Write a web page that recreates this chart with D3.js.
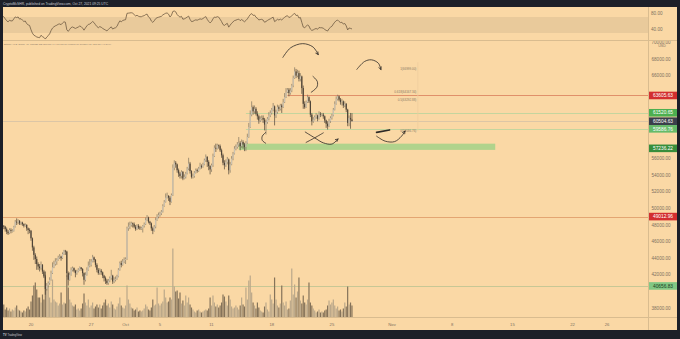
<!DOCTYPE html>
<html><head><meta charset="utf-8">
<script src="https://cdn.jsdelivr.net/npm/d3@7"></script>
<style>html,body{margin:0;padding:0;background:#1c1f28;}svg{display:block;}</style>
</head><body><svg id="c" width="680" height="339"></svg>
<script>
// ---------- DATA (BTC/USD 4h, Coinbase; prices in thousands of USD) ----------
const firstCandleUTC = Date.UTC(2021, 8, 16, 12); // Sep 16 12:00
const firstOpen = 48.0;
const priorCloses = [44.6,44.9,44.3,44.9,45.3,45.6,46.2,46.8,47.1,47.0,47.3,47.6,47.9,48.2,48.1,48.3,48.0,47.8,48.0,48.0];
const closeK = [
 47.6,47.9,47.8,
 47.5,47.2,47.0,47.4,47.3,47.3,
 47.8,48.4,48.3,48.5,48.2,48.3,
 48.1,47.9,48.0,47.6,47.4,47.3,
 46.4,45.3,44.4,43.9,43.3,43.0,
 42.8,43.2,42.4,41.8,40.3,40.7,
 41.0,41.4,42.2,42.9,43.3,43.6,
 43.8,44.1,44.2,44.0,44.5,44.9,
 44.8,42.2,41.4,42.0,42.6,42.8,
 42.5,42.2,42.4,42.6,42.9,42.7,
 42.2,41.4,42.0,42.6,43.1,43.2,
 43.6,44.1,43.8,43.2,42.6,42.2,
 42.5,42.3,41.9,41.6,41.3,41.0,
 41.3,41.6,41.9,41.2,41.4,41.5,
 41.8,42.6,43.4,43.2,43.6,43.8,
 43.9,47.6,47.8,48.0,48.2,48.1,
 47.8,47.5,47.9,47.7,47.6,47.6,
 47.9,48.1,48.6,48.9,48.4,48.2,
 47.6,47.3,47.8,48.6,49.0,49.2,
 49.4,49.6,50.3,50.8,51.3,51.5,
 51.3,50.8,51.6,54.9,55.5,55.3,
 54.6,54.2,53.9,54.4,53.6,53.8,
 54.2,54.8,55.4,54.5,53.8,53.9,
 54.3,54.6,54.5,54.8,55.1,55.0,
 55.3,55.8,56.2,55.6,55.1,54.7,
 55.2,56.3,57.3,57.2,57.6,57.5,
 57.0,56.4,55.5,55.2,55.6,55.9,
 54.6,55.3,56.0,56.6,57.2,57.4,
 57.7,57.9,57.5,58.0,57.7,57.4,
 57.9,58.6,59.8,61.3,62.2,61.7,
 62.0,61.4,61.1,60.6,60.8,60.9,
 60.7,60.1,60.4,60.8,61.2,61.5,
 61.9,62.3,61.2,61.6,62.2,62.0,
 62.4,62.2,62.8,63.4,64.0,64.3,
 63.9,64.2,64.8,65.7,66.5,66.0,
 66.3,65.6,65.9,64.5,62.6,62.2,
 62.8,63.4,62.9,61.3,60.5,60.7,
 61.0,61.2,60.8,61.4,61.3,61.3,
 61.1,60.6,60.2,59.9,60.5,60.9,
 61.2,61.9,62.6,63.2,63.5,63.1,
 62.8,62.9,62.4,62.6,61.9,60.3,
 60.9,60.71144,60.50463
];
const highK = [
 48.2,48.1,48.0,
 47.9,47.7,47.4,47.6,47.6,47.5,
 47.9,48.6,48.8,48.7,48.6,48.4,
 48.4,48.2,48.2,48.1,47.7,47.6,
 47.4,46.5,45.5,44.6,44.2,43.5,
 43.3,43.6,43.3,42.6,42.0,41.0,
 41.2,41.7,42.5,43.5,43.7,44.0,
 44.0,44.3,44.5,44.3,44.7,45.0,
 45.0,44.9,42.4,42.3,42.9,43.0,
 42.9,42.6,42.6,42.8,43.0,42.9,
 42.8,42.3,42.3,42.9,43.6,43.9,
 43.9,44.4,44.2,43.9,43.4,42.8,
 42.8,42.7,42.4,42.0,41.8,41.5,
 41.5,41.8,42.6,42.0,41.7,41.8,
 42.0,42.8,43.6,43.7,43.9,44.1,
 44.1,47.8,48.3,48.4,48.4,48.3,
 48.3,48.0,48.1,48.1,47.9,47.8,
 48.0,48.3,48.9,49.2,49.0,48.5,
 48.3,47.8,48.0,48.9,49.3,49.5,
 49.6,49.8,50.5,51.0,51.8,51.9,
 51.6,51.5,51.8,55.3,55.8,55.7,
 55.4,54.8,54.4,54.6,54.5,54.1,
 54.4,55.0,56.1,55.6,54.6,54.2,
 54.5,54.8,54.8,55.0,55.5,55.3,
 55.5,56.0,56.5,56.3,55.8,55.2,
 55.4,56.6,57.6,57.8,57.8,57.7,
 57.7,57.2,56.6,55.8,55.9,56.2,
 56.0,55.6,56.3,56.8,57.5,57.7,
 58.0,58.6,58.1,58.3,58.2,57.9,
 58.1,59.0,60.3,61.8,62.9,62.4,
 62.4,62.2,61.7,61.3,61.1,61.2,
 61.2,60.9,60.7,61.0,61.6,61.8,
 62.1,62.7,62.4,61.9,62.5,62.4,
 62.6,62.6,63.2,63.9,64.5,64.5,
 64.5,64.5,65.0,66.0,67.0,66.8,
 66.7,66.6,66.3,66.0,64.8,62.9,
 63.0,63.7,63.5,63.0,61.5,61.0,
 61.2,61.5,61.3,61.7,61.6,61.5,
 61.5,61.2,60.7,60.5,60.8,61.1,
 61.4,62.1,62.9,63.5,63.7,63.6,
 63.3,63.2,63.0,62.9,62.7,62.0,
 61.2,61.5,61.488
];
const lowK = [
 47.2,47.4,47.5,
 47.2,46.9,46.8,46.9,47.0,47.1,
 47.2,47.7,48.0,48.1,48.0,48.0,
 47.9,47.7,47.8,47.3,46.9,47.0,
 46.1,44.9,43.8,43.3,42.6,42.6,
 42.4,42.6,42.1,41.6,39.6,40.1,
 40.5,40.8,41.3,42.1,42.8,43.1,
 43.2,43.7,43.9,43.7,43.9,44.4,
 44.4,41.8,40.7,41.3,41.9,42.4,
 42.3,41.7,42.0,42.3,42.5,42.5,
 41.8,40.8,41.2,41.9,42.5,42.9,
 43.0,43.5,43.5,42.9,42.3,42.0,
 42.0,42.0,41.6,41.2,40.9,40.8,
 40.8,41.1,41.4,40.9,41.0,41.2,
 41.4,41.7,42.5,42.9,43.1,43.4,
 43.3,43.8,47.3,47.5,47.8,47.7,
 47.6,47.3,47.4,47.5,47.4,47.4,
 47.1,47.7,48.0,48.5,48.2,48.0,
 47.3,46.9,47.2,47.6,48.5,48.8,
 49.0,49.2,49.5,50.2,50.7,51.2,
 50.9,50.4,50.7,51.5,54.6,54.9,
 54.3,53.8,53.6,53.6,53.4,53.5,
 53.6,54.1,54.6,54.2,53.6,53.6,
 53.7,54.2,54.3,54.4,54.7,54.8,
 54.9,55.2,55.6,55.0,54.6,54.1,
 54.4,55.0,56.2,56.8,57.1,57.2,
 56.8,56.1,55.2,54.7,55.0,55.3,
 54.1,54.3,55.2,55.8,56.5,57.0,
 57.2,57.4,57.0,57.3,57.2,56.9,
 56.9,57.8,58.5,59.7,61.1,61.3,
 61.4,61.2,60.7,60.2,60.4,60.6,
 60.3,59.4,58.9,60.2,60.6,61.0,
 61.3,61.7,60.0,60.9,61.4,61.7,
 61.8,61.5,62.1,62.7,63.3,63.9,
 63.5,63.7,64.0,64.6,65.6,65.7,
 65.8,65.3,65.3,63.8,62.0,62.0,
 62.1,62.7,62.7,61.0,60.0,60.3,
 60.6,60.8,60.5,60.7,61.0,61.1,
 60.8,60.3,59.7,59.5,59.8,60.3,
 60.7,61.1,61.8,62.5,63.0,62.9,
 62.5,62.4,62.1,62.2,61.6,59.9,
 59.9,59.6,60.5
];
const volumeBTC = [
 1100,900,1300,
 800,1000,700,900,600,800,
 700,1000,1200,800,700,600,
 500,700,600,900,1100,800,
 1600,2200,3200,3500,2800,2000,
 2000,1500,2300,1800,4600,3000,
 3200,2000,1500,3800,1800,1600,
 1500,1200,1400,2500,1300,1500,
 1400,4200,3000,1800,1500,1200,
 1100,1300,800,900,700,900,
 1400,2400,1500,1200,1800,1000,
 1200,1500,900,1100,1300,1000,
 1300,900,1200,1500,1800,1200,
 1400,1000,1600,1300,900,800,
 1100,1400,2000,1200,1000,900,
 1200,3200,1800,1400,1000,900,
 700,800,1000,600,700,600,
 700,900,1300,1100,800,700,
 1000,1800,1200,1300,3000,1400,
 1200,1400,1600,2800,2000,1500,
 1600,2000,1800,6900,3100,2600,
 2700,1900,2500,1400,1700,1200,
 2200,1500,2000,1300,1000,800,
 600,500,700,800,600,500,
 600,700,800,700,900,2000,
 1200,2200,1500,1100,1300,1000,
 1200,1500,2300,2100,1600,1200,
 2200,1800,1100,900,1000,1200,
 1000,800,1200,2000,1300,1100,
 3000,1800,3700,4200,2500,1500,
 1200,900,1500,1000,700,600,
 500,1100,1500,800,600,2300,
 1800,1400,4000,1800,1200,1000,
 1400,3200,1500,1200,1600,800,
 900,1700,4900,2300,3300,2000,
 2600,4000,1700,1400,2200,1500,
 1300,1800,3500,1500,1200,900,
 700,500,600,800,500,600,
 500,700,800,1200,1700,1300,
 1500,1800,1200,900,1100,700,
 800,600,900,1500,1100,3100,
 1300,1500,1200
];
const priceTicks = [38,40,42,44,46,48,50,52,54,56,58,60,62,64,66,68,70];
const timeTickDates = [[2021,8,20],[2021,8,27],[2021,9,1],[2021,9,5],[2021,9,11],[2021,9,18],[2021,9,25],[2021,10,1],[2021,10,8],[2021,10,15],[2021,10,22],[2021,10,26]];
const timeTickLabels = ["20","27","Oct","5","11","18","25","Nov","8","15","22","26"];
const rsiTicks = [80, 40];
const rsiBand = [30, 70];
// horizontal levels: price(k), axis label, label bg, label text colour, line colour, line start
const levels = [
 {p:63.60563, lab:"63605.63", bg:"#d32f2f", fg:"#ffffff", line:"#e0906a", from:[2021,9,19,20]},
 {p:61.52065, lab:"61520.65", bg:"#4caf50", fg:"#ffffff", line:"#c4d59e", from:[2021,9,15,0]},
 {p:60.50463, lab:"60504.63", bg:"#3a3f4b", fg:"#ffffff", line:"#dcc6a6", from:null},
 {p:59.58676, lab:"59586.76", bg:"#66bb6a", fg:"#ffffff", line:"#c4d59e", from:[2021,9,15,0]},
 {p:57.23622, lab:"57236.22", bg:"#388e3c", fg:"#ffffff", line:null, from:null},
 {p:49.01296, lab:"49012.96", bg:"#d32f2f", fg:"#ffffff", line:"#e3a572", from:null},
 {p:40.65683, lab:"40656.83", bg:"#81c784", fg:"#1b3d1d", line:"#c7c795", from:null}
];
const zone = {from:[2021,9,14,4], to:[2021,10,13,0], lo:57.05, hi:57.80};
const fibLabels = [
 {t:"1(66999.00)", p:66.85},
 {t:"0.618(64167.34)", p:64.05},
 {t:"0.5(63292.88)", p:63.05},
 {t:"0(59586.76)", p:59.35}
];
const fibX = [2021,10,4,0];
// hand drawn annotation strokes: [days since Sep 20 00:00, price k]
const strokes = [
 {pts:[[29.3,68.2],[30.2,69.35],[31.6,69.85],[32.8,69.45],[33.4,68.55]], arrow:true},
 {pts:[[32.8,65.9],[33.3,65.3],[33.25,64.6],[32.6,64.0]], arrow:false},
 {pts:[[37.9,66.75],[38.8,67.7],[39.6,67.9],[40.4,67.5],[40.7,66.75]], arrow:true},
 {pts:[[27.3,59.15],[26.9,58.7],[26.9,58.2],[27.3,57.85]], arrow:false},
 {pts:[[31.9,59.2],[33.0,58.5],[34.0,57.9],[35.0,57.75],[35.7,58.35]], arrow:true},
 {pts:[[32.0,57.95],[33.0,58.5],[34.0,59.1]], arrow:false},
 {pts:[[40.2,58.7],[41.2,58.1],[42.3,58.05],[43.1,58.7],[43.5,59.3]], arrow:true}
];
const boldDash = [[40.2,59.15],[41.7,59.45]];
const header = "CryptoMcSHR, published on TradingView.com, Oct 27, 2021 09:25 UTC";
const legend = "Bitcoin / U.S. Dollar, 4h, COINBASE   O60711.44  H61488.00  L60500.00  C60504.63  \u2212206.50 (\u22120.34%)";

// ---------- LAYOUT ----------
const W = 680, H = 339;
const L = 3, R = 677, T = 7, B = 330, AX = 648;
const RSI_B = 40.5, MAIN_T = 41, MAIN_B = 317.5;
const BG = "#fad8a5", GRID = "#d9bc8f", TXT = "#7d705f", FONT = "Liberation Sans, Arial, sans-serif";

const svg = d3.select("#c");
svg.append("rect").attr("width", W).attr("height", H).attr("fill", "#1c1f28");
svg.append("rect").attr("x", L).attr("y", T).attr("width", R - L).attr("height", B - T).attr("fill", BG);

const day0 = Date.UTC(2021, 8, 20);
const x = d3.scaleUtc().domain([new Date(day0), new Date(Date.UTC(2021, 10, 26))]).range([31, 607]);
const xd = d => x(new Date(day0 + d * 86400000));
const y = d3.scaleLinear().domain([38, 68]).range([308, 59]);
const yr = d3.scaleLinear().domain([0, 100]).range([45, 5]);
const yv = d3.scaleLinear().domain([0, 6900]).range([MAIN_B, 248.5]);

const defs = svg.append("defs");
defs.append("clipPath").attr("id", "cm").append("rect").attr("x", L).attr("y", MAIN_T).attr("width", AX - L).attr("height", MAIN_B - MAIN_T);
defs.append("clipPath").attr("id", "cr").append("rect").attr("x", L).attr("y", T).attr("width", AX - L).attr("height", RSI_B - T);
defs.append("clipPath").attr("id", "ca").append("rect").attr("x", AX).attr("y", MAIN_T).attr("width", R - AX).attr("height", MAIN_B - MAIN_T);

const n = closeK.length;
const candles = d3.range(n).map(i => ({
  t: new Date(firstCandleUTC + i * 4 * 3600000),
  o: i === 0 ? firstOpen : closeK[i - 1], c: closeK[i], h: highK[i], l: lowK[i], v: volumeBTC[i]
}));

// ---------- RSI PANE ----------
const gr = svg.append("g").attr("clip-path", "url(#cr)");
gr.append("rect").attr("x", L).attr("width", AX - L).attr("y", yr(rsiBand[1])).attr("height", yr(rsiBand[0]) - yr(rsiBand[1])).attr("fill", "#e9ca9b");
const allC = priorCloses.concat(closeK);
const rsiVals = [];
{
  const N = 14; let ag = 0, al = 0;
  for (let i = 1; i <= N; i++) { const d = allC[i] - allC[i - 1]; if (d > 0) ag += d; else al -= d; }
  ag /= N; al /= N;
  for (let i = N + 1; i < allC.length; i++) {
    const d = allC[i] - allC[i - 1];
    ag = (ag * (N - 1) + Math.max(d, 0)) / N;
    al = (al * (N - 1) + Math.max(-d, 0)) / N;
    const k = i - priorCloses.length;
    if (k >= 0) rsiVals.push({t: candles[k].t, v: al === 0 ? 100 : 100 - 100 / (1 + ag / al)});
  }
}
gr.append("path").datum(rsiVals).attr("fill", "none").attr("stroke", "#6e5b43").attr("stroke-width", 0.8)
  .attr("d", d3.line().x(d => x(d.t)).y(d => yr(d.v)));
svg.append("line").attr("x1", L).attr("x2", R).attr("y1", RSI_B).attr("y2", RSI_B).attr("stroke", GRID).attr("stroke-width", 1);
rsiTicks.forEach(v => svg.append("text").attr("x", 651).attr("y", yr(v) + 1.6).attr("font-size", 4.6).attr("font-family", FONT).attr("fill", TXT).text(v.toFixed(2)));

// ---------- MAIN PANE ----------
const gm = svg.append("g").attr("clip-path", "url(#cm)");
gm.append("rect").attr("x", x(new Date(Date.UTC(...zone.from)))).attr("width", x(new Date(Date.UTC(...zone.to))) - x(new Date(Date.UTC(...zone.from))))
  .attr("y", y(zone.hi)).attr("height", y(zone.lo) - y(zone.hi)).attr("fill", "#b0d38c");
levels.forEach(lv => {
  if (!lv.line) return;
  const x1 = lv.from ? x(new Date(Date.UTC(...lv.from))) : L;
  gm.append("line").attr("x1", x1).attr("x2", AX).attr("y1", Math.round(y(lv.p)) + 0.5).attr("y2", Math.round(y(lv.p)) + 0.5)
    .attr("stroke", lv.line).attr("stroke-width", 1);
});
gm.append("line").attr("x1", x(new Date(Date.UTC(...fibX)))).attr("x2", x(new Date(Date.UTC(...fibX)))).attr("y1", y(67.6)).attr("y2", y(59.3)).attr("stroke", "#efcd9e").attr("stroke-width", 0.8);
fibLabels.forEach(f => gm.append("text").attr("x", x(new Date(Date.UTC(...fibX))) - 1.5).attr("y", y(f.p) + 1).attr("text-anchor", "end")
  .attr("font-size", 3).attr("font-family", FONT).attr("fill", "#8a7a66").text(f.t));

gm.selectAll("rect.vol").data(candles).join("rect").attr("class", "vol")
  .attr("x", d => x(d.t) - 0.6).attr("width", 1.2)
  .attr("y", d => yv(d.v)).attr("height", d => MAIN_B - yv(d.v))
  .attr("fill", d => d.c >= d.o ? "#bba88a" : "#85735a");

gm.selectAll("line.wick").data(candles).join("line").attr("class", "wick")
  .attr("x1", d => x(d.t)).attr("x2", d => x(d.t)).attr("y1", d => y(d.h)).attr("y2", d => y(d.l))
  .attr("stroke", d => d.c >= d.o ? "#7e725f" : "#4f4437").attr("stroke-width", 0.7);
gm.selectAll("rect.body").data(candles).join("rect").attr("class", "body")
  .attr("x", d => x(d.t) - 0.6).attr("width", 1.2)
  .attr("y", d => y(Math.max(d.o, d.c))).attr("height", d => Math.max(0.8, Math.abs(y(d.o) - y(d.c))))
  .attr("fill", d => d.c >= d.o ? "#cdc3b1" : "#4f4437");

const ln = d3.line().x(p => xd(p[0])).y(p => y(p[1])).curve(d3.curveCatmullRom);
strokes.forEach(s => {
  gm.append("path").attr("d", ln(s.pts)).attr("fill", "none").attr("stroke", "#2d2a26").attr("stroke-width", 0.8).attr("stroke-linecap", "round");
  if (s.arrow) {
    const a = s.pts[s.pts.length - 1], b = s.pts[s.pts.length - 2];
    const ax = xd(a[0]), ay = y(a[1]), bx = xd(b[0]), by = y(b[1]);
    const ang = Math.atan2(ay - by, ax - bx), len = 2.6;
    [0.5, -0.5].forEach(dA => gm.append("line").attr("x1", ax).attr("y1", ay)
      .attr("x2", ax - len * Math.cos(ang + dA)).attr("y2", ay - len * Math.sin(ang + dA))
      .attr("stroke", "#2d2a26").attr("stroke-width", 0.8).attr("stroke-linecap", "round"));
  }
});
gm.append("path").attr("d", d3.line().x(p => xd(p[0])).y(p => y(p[1]))(boldDash)).attr("stroke", "#2d2a26").attr("stroke-width", 1.7).attr("stroke-linecap", "round");

// ---------- PRICE AXIS ----------
svg.append("line").attr("x1", AX + 0.5).attr("x2", AX + 0.5).attr("y1", T).attr("y2", B).attr("stroke", GRID);
const labelYs = levels.map(lv => y(lv.p));
const ga = svg.append("g");
const gclip = svg.append("g").attr("clip-path", "url(#ca)");
priceTicks.forEach(p => {
  const yy = y(p);
  if (labelYs.some(ly => Math.abs(ly - yy) < 6.5)) return;
  if (yy > MAIN_B) return;
  const tgt = yy < 50 ? gclip : ga;
  tgt.append("text").attr("x", 651.5).attr("y", yy + 1.6).attr("font-size", 4.6).attr("font-family", FONT).attr("fill", TXT).text((p * 1000).toFixed(2));
});
ga.append("text").attr("x", 662).attr("y", 47.3).attr("text-anchor", "middle").attr("font-size", 3.6).attr("font-family", FONT).attr("fill", TXT).text("USD");
levels.forEach(lv => {
  const yy = y(lv.p);
  ga.append("rect").attr("x", AX + 1).attr("y", yy - 3.8).attr("width", 28).attr("height", 7.6).attr("fill", lv.bg);
  ga.append("text").attr("x", AX + 15).attr("y", yy + 1.7).attr("text-anchor", "middle").attr("font-size", 4.8).attr("font-family", FONT).attr("fill", lv.fg).text(lv.lab);
});

// ---------- TIME AXIS ----------
svg.append("line").attr("x1", L).attr("x2", R).attr("y1", MAIN_B).attr("y2", MAIN_B).attr("stroke", GRID);
timeTickDates.forEach((d, i) => svg.append("text").attr("x", x(new Date(Date.UTC(...d)))).attr("y", 325.8).attr("text-anchor", "middle")
  .attr("font-size", 4.2).attr("font-family", FONT).attr("fill", TXT).text(timeTickLabels[i]));

// ---------- TEXTS ----------
svg.append("text").attr("x", 3).attr("y", 5).attr("font-size", 3.3).attr("font-family", FONT).attr("fill", "#c9ccd3").text(header);
svg.append("text").attr("x", 4).attr("y", 44.6).attr("font-size", 2.4).attr("font-family", FONT).attr("fill", "#8a7a66").text(legend);
svg.append("text").attr("x", 3).attr("y", 335.5).attr("font-size", 2.8).attr("font-family", FONT).attr("font-weight", "bold").attr("fill", "#c9ccd3").text("TV");
svg.append("text").attr("x", 7.5).attr("y", 335.5).attr("font-size", 2.6).attr("font-family", FONT).attr("fill", "#c9ccd3").text("TradingView");
</script></body></html>
